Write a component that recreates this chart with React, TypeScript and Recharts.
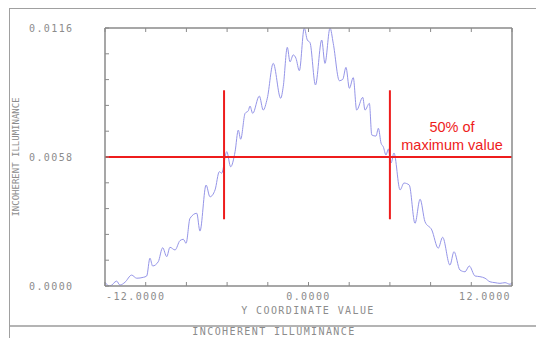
import React from 'react';
import { LineChart, Line, XAxis, YAxis, ReferenceLine } from 'recharts';

// Y coordinate samples (x axis) and incoherent illuminance
const yCoord = [
  -12.0, -11.71, -11.31, -11.12, -10.82, -10.43, -10.13, -9.74, -9.54, -9.35,
  -9.19, -8.86, -8.6, -8.36, -8.17, -7.87, -7.58, -7.38, -7.22, -6.99,
  -6.59, -6.4, -6.04, -5.81, -5.51, -5.26, -5.12, -4.82, -4.59, -4.33,
  -4.14, -4.0, -3.74, -3.55, -3.45, -3.29, -2.9, -2.67, -2.43, -2.08,
  -1.64, -1.49, -1.25, -1.09, -0.9, -0.74, -0.54, -0.25, -0.07, 0.09,
  0.41, 0.78, 0.97, 1.27, 1.46, 1.82, 2.02, 2.21, 2.41, 2.64,
  2.84, 3.2, 3.33, 3.59, 3.73, 3.98, 4.12, 4.28, 4.41, 4.57,
  4.71, 4.87, 5.04, 5.4, 5.63, 5.94, 6.28, 6.58, 6.87, 7.27,
  7.65, 7.91, 8.34, 8.58, 8.93, 9.23, 9.48, 9.82, 10.11, 10.41,
  10.7, 11.0, 11.29, 11.59, 11.88, 12.0,
];

const illuminance = [
  0.00015, 0.0, 0.00022, 0.00004, 0.00017, 0.00049, 0.00035, 0.00039, 0.00045, 0.00125,
  0.0009, 0.00109, 0.00172, 0.00132, 0.00174, 0.00162, 0.00204, 0.0021, 0.00192, 0.00304,
  0.00327, 0.00247, 0.00454, 0.00401, 0.00432, 0.00514, 0.00507, 0.00604, 0.00536, 0.00604,
  0.00701, 0.0066, 0.00776, 0.00788, 0.00809, 0.00776, 0.00854, 0.00791, 0.00844, 0.01001,
  0.00844, 0.00896, 0.01073, 0.01008, 0.01039, 0.01024, 0.00968, 0.0116, 0.01106, 0.01094,
  0.00904, 0.01106, 0.01001, 0.0116, 0.01091, 0.00923, 0.00929, 0.00983, 0.00889, 0.00937,
  0.00791, 0.00848, 0.00791, 0.00821, 0.00679, 0.00674, 0.00709, 0.00642, 0.00626, 0.00589,
  0.00616, 0.00553, 0.00598, 0.00432, 0.00463, 0.00454, 0.00282, 0.0039, 0.00289, 0.00252,
  0.0017, 0.00219, 0.00094, 0.00154, 0.00072, 0.00064, 0.0009, 0.00045, 0.00042, 0.00035,
  0.00019, 0.00015, 0.00012, 0.00015, 0.00008, 0.00013,
];

const xTicks = [-12, -9.6, -7.2, -4.8, -2.4, 0, 2.4, 4.8, 7.2, 9.6, 12];
const xLabels = [-12, 0, 12];
const yTicks = [0, 0.00116, 0.00232, 0.00348, 0.00464, 0.0058, 0.00696, 0.00812, 0.00928, 0.01044, 0.0116];
const yLabels = [0, 0.0058, 0.0116];

const halfMax = 0.0058;
const leftEdge = -4.98;
const rightEdge = 4.8;
const markerTop = 0.0088;
const markerBottom = 0.003;

const data = yCoord.map((x, i) => ({ x, y: illuminance[i] }));

const W = 536;
const H = 338;
// plot box: x 105..512, y 28..286
const PL = 105;
const PR = 512;
const PT = 28;
const PB = 286;
const AX_B = 20;
const AX_T = 4;
const AX_L = 20;
const AX_R = 4;
const M = { top: PT - AX_T, right: W - PR - AX_R, bottom: H - PB - AX_B, left: PL - AX_L };

const AXIS = '#8a8a8a';
const TXT = '#8c8c8c';
const MONO = '"DejaVu Sans Mono", monospace';
const RED = '#ee1c1c';

const monoText = { fontFamily: MONO, fontSize: 10, letterSpacing: 1.4, fill: TXT };

const BottomTick = (props: any) => {
  const v = props.payload.value;
  const cx = props.payload.coordinate;
  const show = xLabels.some((l) => Math.abs(l - v) < 1e-6);
  const anchor = v < 0 ? 'start' : v > 0 ? 'end' : 'middle';
  const tx = v < 0 ? PL + 1 : v > 0 ? PR - 1 : cx;
  return (
    <g>
      <line x1={cx} y1={PB} x2={cx} y2={PB - 4} stroke={AXIS} strokeWidth={1} />
      {show && (
        <text x={tx} y={PB + 14} textAnchor={anchor} style={monoText}>
          {v.toFixed(4)}
        </text>
      )}
    </g>
  );
};

const TopTick = (props: any) => {
  const cx = props.payload.coordinate;
  return <line x1={cx} y1={PT} x2={cx} y2={PT + 4} stroke={AXIS} strokeWidth={1} />;
};

const LeftTick = (props: any) => {
  const v = props.payload.value;
  const cy = props.payload.coordinate;
  const show = yLabels.some((l) => Math.abs(l - v) < 1e-9);
  return (
    <g>
      <line x1={PL} y1={cy} x2={PL + 4} y2={cy} stroke={AXIS} strokeWidth={1} />
      {show && (
        <text x={29} y={cy + 4} textAnchor="start" style={monoText}>
          {v.toFixed(4)}
        </text>
      )}
    </g>
  );
};

const RightTick = (props: any) => {
  const cy = props.payload.coordinate;
  return <line x1={PR} y1={cy} x2={PR - 4} y2={cy} stroke={AXIS} strokeWidth={1} />;
};

export default function App() {
  return (
    <div style={{ position: 'absolute', left: 0, top: 0, width: W, height: H, background: '#fff', overflow: 'hidden' }}>
      {/* outer frame */}
      <div style={{ position: 'absolute', left: 9, top: 8, width: W, height: H, borderTop: '1.5px solid #a0a0a0', borderLeft: '1.5px solid #a0a0a0' }} />
      <div style={{ position: 'absolute', left: 10, top: 325, width: W, height: 0, borderTop: '2px solid #b4b4b4' }} />

      <div style={{ position: 'absolute', left: 0, top: 0 }}>
        <LineChart width={W} height={H} data={data} margin={M}>
          <XAxis
            xAxisId="b"
            dataKey="x"
            type="number"
            domain={[-12, 12]}
            ticks={xTicks}
            height={AX_B}
            tickLine={false}
            tick={(p: any) => <BottomTick {...p} />}
            stroke={AXIS}
            strokeWidth={1.5}
            interval={0}
          />
          <XAxis
            xAxisId="t"
            orientation="top"
            dataKey="x"
            type="number"
            domain={[-12, 12]}
            ticks={xTicks}
            height={AX_T}
            tickLine={false}
            tick={(p: any) => <TopTick {...p} />}
            stroke={AXIS}
            strokeWidth={1.5}
            interval={0}
          />
          <YAxis
            yAxisId="l"
            type="number"
            domain={[0, 0.0116]}
            ticks={yTicks}
            width={AX_L}
            tickLine={false}
            tick={(p: any) => <LeftTick {...p} />}
            stroke={AXIS}
            strokeWidth={1.5}
            interval={0}
            allowDataOverflow
          />
          <YAxis
            yAxisId="r"
            orientation="right"
            type="number"
            domain={[0, 0.0116]}
            ticks={yTicks}
            width={AX_R}
            tickLine={false}
            tick={(p: any) => <RightTick {...p} />}
            stroke={AXIS}
            strokeWidth={1.5}
            interval={0}
          />
          <Line
            xAxisId="b"
            yAxisId="l"
            type="monotone"
            dataKey="y"
            stroke="#9595e8"
            strokeWidth={1}
            dot={false}
            isAnimationActive={false}
          />
          <ReferenceLine xAxisId="b" yAxisId="l" y={halfMax} stroke={RED} strokeWidth={2} />
          <ReferenceLine
            xAxisId="b"
            yAxisId="l"
            segment={[{ x: leftEdge, y: markerTop }, { x: leftEdge, y: markerBottom }]}
            stroke={RED}
            strokeWidth={2}
          />
          <ReferenceLine
            xAxisId="b"
            yAxisId="l"
            segment={[{ x: rightEdge, y: markerTop }, { x: rightEdge, y: markerBottom }]}
            stroke={RED}
            strokeWidth={2}
          />
        </LineChart>
      </div>

      {/* axis titles */}
      <div style={{ position: 'absolute', left: 16, top: 157, transform: 'translate(-50%, -50%) rotate(-90deg)', fontFamily: MONO, fontSize: 9, color: TXT, whiteSpace: 'nowrap', lineHeight: '10px' }}>
        INCOHERENT ILLUMINANCE
      </div>
      <div style={{ position: 'absolute', left: 308, top: 311, transform: 'translate(-50%, -50%)', fontFamily: MONO, fontSize: 10, letterSpacing: 1.4, color: TXT, whiteSpace: 'nowrap', lineHeight: '12px' }}>
        Y COORDINATE VALUE
      </div>
      <div style={{ position: 'absolute', left: 274, top: 332, transform: 'translate(-50%, -50%)', fontFamily: MONO, fontSize: 10, letterSpacing: 1.4, color: TXT, whiteSpace: 'nowrap', lineHeight: '12px' }}>
        INCOHERENT ILLUMINANCE
      </div>

      {/* annotation */}
      <div style={{ position: 'absolute', left: 452, top: 136, transform: 'translate(-50%, -50%)', fontFamily: '"Liberation Sans", Arial, sans-serif', fontSize: 14.5, color: RED, textAlign: 'center', lineHeight: '18px', whiteSpace: 'nowrap' }}>
        50% of
        <br />
        maximum value
      </div>
    </div>
  );
}
